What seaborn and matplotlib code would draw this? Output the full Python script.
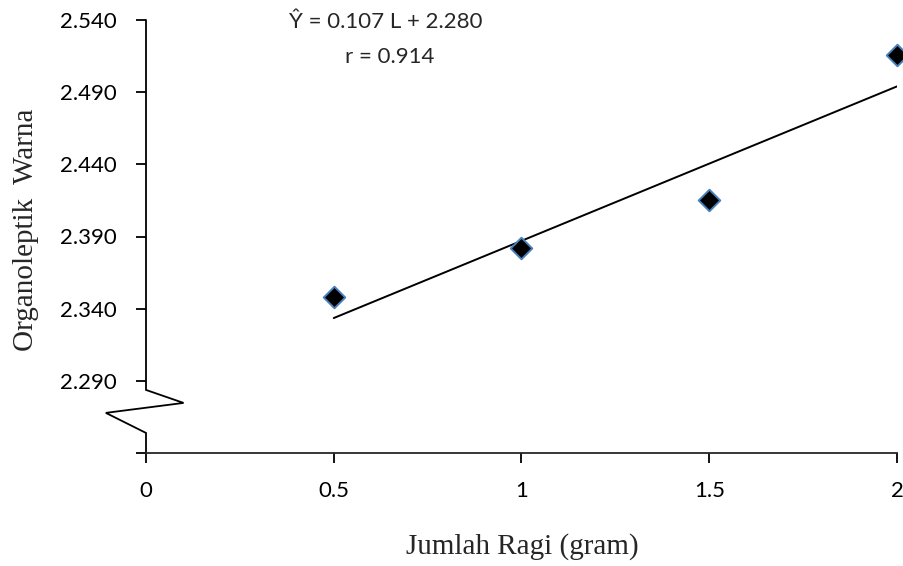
import matplotlib.pyplot as plt
import seaborn as sns
import numpy as np
import pandas as pd

# data
ragi = [0.5, 1.0, 1.5, 2.0]
warna = [2.348, 2.382, 2.415, 2.516]
slope = 0.107
intercept = 2.280
r_value = 0.914
xticks = [0, 0.5, 1, 1.5, 2]
xtick_labels = ['0', '0.5', '1', '1.5', '2']
yticks = [2.240, 2.290, 2.340, 2.390, 2.440, 2.490, 2.540]
ytick_labels = ['', '2.290', '2.340', '2.390', '2.440', '2.490', '2.540']

df = pd.DataFrame({'ragi': ragi, 'warna': warna})
line_x = np.array([ragi[0], ragi[-1]])
line_df = pd.DataFrame({'ragi': line_x, 'warna': slope * line_x + intercept})

sns.set_style('white')
plt.rcParams['font.family'] = ['Lato', 'DejaVu Sans']

fig = plt.figure(figsize=(9.04, 5.66), dpi=100)
ax = fig.add_axes([146/904, (566-453)/566, (897-146)/904, (453-20)/566])

sns.lineplot(data=line_df, x='ragi', y='warna', color='black', lw=1.4, ax=ax)
sns.scatterplot(data=df, x='ragi', y='warna', marker='D', s=120, color='black',
                edgecolor='#4a7ebb', linewidth=1.4, zorder=5, clip_on=False, ax=ax)

ax.set_xlim(0, 2)
ax.set_ylim(2.24, 2.54)
ax.set_xticks(xticks)
ax.set_xticklabels(xtick_labels)
ax.set_yticks(yticks)
ax.set_yticklabels(ytick_labels)

for s in ['top', 'right', 'left']:
    ax.spines[s].set_visible(False)
ax.spines['bottom'].set_linewidth(1.3)
ax.tick_params(axis='both', direction='out', length=7, width=1.3, labelsize=16,
               colors='black', bottom=True, left=True)
ax.tick_params(axis='x', pad=13)
ax.tick_params(axis='y', pad=14)

# left axis with break
ax.plot([0, 0, 0.1, -0.107, 0, 0], [2.54, 2.2837, 2.2747, 2.2678, 2.2539, 2.24],
        color='black', lw=1.3, clip_on=False, solid_joinstyle='miter')

ax.set_xlabel('')
ax.set_ylabel('')
fig.text(522/904, 1 - 547/566, 'Jumlah Ragi (gram)', family='Liberation Serif',
         fontsize=21, ha='center', va='center')
fig.text(26/904, 1 - 230/566, 'Organoleptik  Warna', family='Liberation Serif',
         fontsize=21, ha='center', va='center', rotation=90)

fig.text(386/904, 1 - 22/566, 'Ŷ = 0.107 L + 2.280', ha='center', va='center', fontsize=16)
fig.text(390/904, 1 - 57/566, 'r = %.3f' % r_value, ha='center', va='center', fontsize=16)

fig.savefig('out.png', dpi=100)
